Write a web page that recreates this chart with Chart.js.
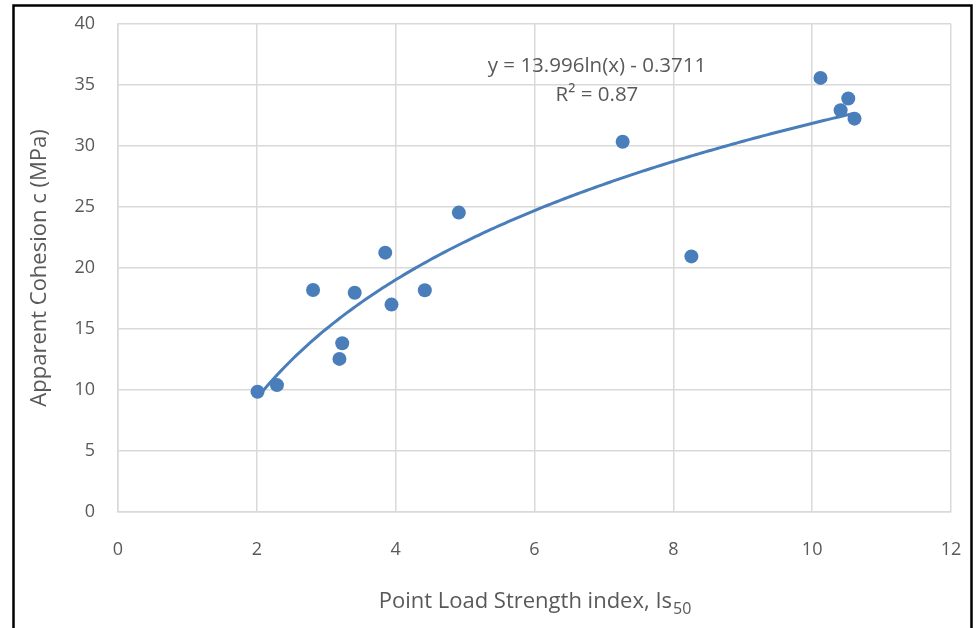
<!DOCTYPE html>
<html>
<head>
<meta charset="utf-8">
<script src="https://cdn.jsdelivr.net/npm/chart.js@4/dist/chart.umd.min.js"></script>
<style>
html, body { margin: 0; padding: 0; background: #fff; overflow: hidden; }
#wrap { width: 978px; height: 628px; position: relative; }
</style>
</head>
<body>
<div id="wrap"><canvas id="chart" width="978" height="628"></canvas></div>
<script>
// data
const isValues = [2.01, 2.29, 2.81, 3.19, 3.23, 3.41, 3.85, 3.94, 4.42, 4.91, 7.27, 8.26, 10.12, 10.41, 10.52, 10.61];
const cohesionValues = [9.86, 10.4, 18.2, 12.55, 13.83, 17.97, 21.26, 17.0, 18.18, 24.54, 30.35, 20.95, 35.58, 32.93, 33.89, 32.24];
const xTicks = [0, 2, 4, 6, 8, 10, 12];
const yTicks = [0, 5, 10, 15, 20, 25, 30, 35, 40];

// trendline as printed on the chart
const trendA = 13.996;
const trendB = -0.3711;
const trendLabel = "y = 13.996ln(x) - 0.3711";
const r2Label = "R² = 0.87";

const blue = "#4a7ebb";
const grey = "#595959";
const gridCol = "#d9d9d9";
Chart.defaults.font.family = "'Open Sans', sans-serif";

const points = isValues.map((x, i) => ({ x: x, y: cohesionValues[i] }));
const xMin = Math.min(...isValues), xMax = Math.max(...isValues);
const trend = [];
for (let i = 0; i <= 200; i++) {
    const x = xMin + (xMax - xMin) * i / 200;
    trend.push({ x: x, y: trendA * Math.log(x) + trendB });
}

// outer black frame + equation + x title with subscript
const extras = {
    id: "extras",
    afterDraw(chart) {
        const ctx = chart.ctx;
        const xs = chart.scales.x, ys = chart.scales.y;
        ctx.save();
        ctx.strokeStyle = "#000";
        ctx.lineWidth = 2.5;
        ctx.strokeRect(13.5, 5.5, 958, 700);

        ctx.fillStyle = grey;
        ctx.textAlign = "center";
        ctx.textBaseline = "alphabetic";
        ctx.font = "20.5px 'Open Sans'";
        const cx = xs.getPixelForValue(6.9);
        ctx.fillText(trendLabel, cx, ys.getPixelForValue(36.07));
        ctx.fillText(r2Label, cx, ys.getPixelForValue(33.65));

        // x axis title
        const main = "Point Load Strength index, Is";
        const sub = "50";
        ctx.font = "22px 'Open Sans'";
        const w1 = ctx.measureText(main).width;
        ctx.font = "16px 'Open Sans'";
        const w2 = ctx.measureText(sub).width;
        const left = (xs.left + xs.right) / 2 - (w1 + w2) / 2;
        ctx.textAlign = "left";
        ctx.font = "22px 'Open Sans'";
        ctx.fillText(main, left, 608);
        ctx.font = "16px 'Open Sans'";
        ctx.fillText(sub, left + w1 + 1, 614);
        ctx.restore();
    }
};

new Chart(document.getElementById("chart"), {
    type: "scatter",
    data: {
        datasets: [
            {
                label: "points",
                data: points,
                backgroundColor: blue,
                borderColor: blue,
                pointRadius: 7,
                pointHoverRadius: 7,
                borderWidth: 0,
                order: 1
            },
            {
                label: "trend",
                type: "line",
                data: trend,
                borderColor: blue,
                borderWidth: 3,
                pointRadius: 0,
                tension: 0,
                fill: false,
                order: 2
            }
        ]
    },
    options: {
        responsive: false,
        animation: false,
        layout: { padding: { left: 0, top: 24, right: 27, bottom: 0 } },
        plugins: { legend: { display: false }, tooltip: { enabled: false } },
        scales: {
            x: {
                type: "linear",
                min: xTicks[0],
                max: xTicks[xTicks.length - 1],
                afterBuildTicks: s => { s.ticks = xTicks.map(v => ({ value: v })); },
                afterFit: s => { s.height = 116; s.paddingLeft = 0; s.paddingRight = 0; },
                ticks: { color: grey, font: { size: 18 }, padding: 27 },
                grid: { color: gridCol, lineWidth: 1.5, drawTicks: false },
                border: { display: true, color: gridCol, width: 1.5 }
            },
            y: {
                min: yTicks[0],
                max: yTicks[yTicks.length - 1],
                afterBuildTicks: s => { s.ticks = yTicks.map(v => ({ value: v })); },
                afterFit: s => { s.width = 118; s.paddingTop = 0; s.paddingBottom = 0; },
                ticks: { color: grey, font: { size: 18 }, padding: 23 },
                grid: { color: gridCol, lineWidth: 1.5, drawTicks: false },
                border: { display: true, color: gridCol, width: 1.5 },
                title: {
                    display: true,
                    text: "Apparent Cohesion c (MPa)",
                    color: grey,
                    font: { size: 22 },
                    padding: { top: 27, bottom: 0 }
                }
            }
        }
    },
    plugins: [extras]
});
</script>
</body>
</html>
